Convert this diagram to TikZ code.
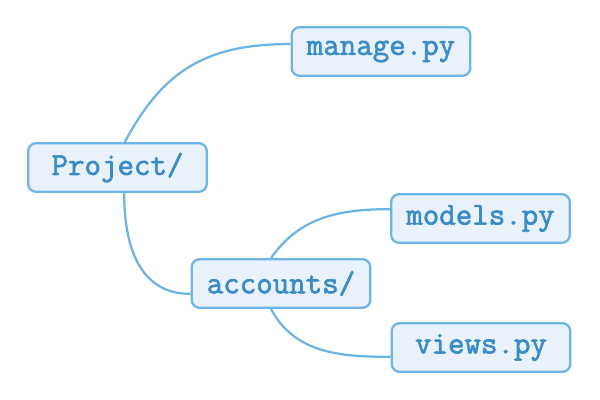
\documentclass[tikz,border=0pt]{standalone}
\usepackage{fontspec}
\newfontfamily\codefont[FakeBold=2]{Latin Modern Mono}
\usetikzlibrary{calc}
\definecolor{boxline}{HTML}{6DB5E6}
\definecolor{boxfill}{HTML}{E9F2FA}
\definecolor{boxtext}{HTML}{3A8CC6}
\tikzset{
	filebox/.style={draw=boxline, fill=boxfill, line width=1.7pt, rounded corners=6pt,
		minimum width=134pt, minimum height=36.5pt, inner sep=0pt,
		text=boxtext, font=\fontsize{24}{28}\selectfont\codefont},
	branch/.style={draw=boxline, line width=1.7pt}
}
\begin{document}
\begin{tikzpicture}[x=0.75pt, y=0.75pt]
			%%%%% START %%%%%
			
			\useasboundingbox (0, 0) rectangle (600, 400);
			
			\node[filebox] (project) at (117.5, 232.5) {Project/};
			\node[filebox] (manage) at (381, 348.5) {manage.py};
			\node[filebox] (accounts) at (281, 116.5) {accounts/};
			\node[filebox] (models) at (480.5, 181.5) {models.py};
			\node[filebox] (views) at (481, 52.5) {views.py};
			
			\draw[branch] ([xshift=5.5pt]project.north) to[out=62, in=180, looseness=1.1] ([yshift=5.6pt]manage.west);
			\draw[branch] ([xshift=5pt]project.south) to[out=-90, in=180, looseness=1.1] ([yshift=-7.8pt]accounts.west);
			
			\draw[branch] ([xshift=-7.5pt]accounts.north) to[out=55, in=180, looseness=1.0] ([yshift=7pt]models.west);
			\draw[branch] ([xshift=-7.5pt]accounts.south) to[out=-62, in=180, looseness=1.0] ([yshift=-7pt]views.west);
			
			%%%%% END %%%%%
		\end{tikzpicture}
\end{document}
